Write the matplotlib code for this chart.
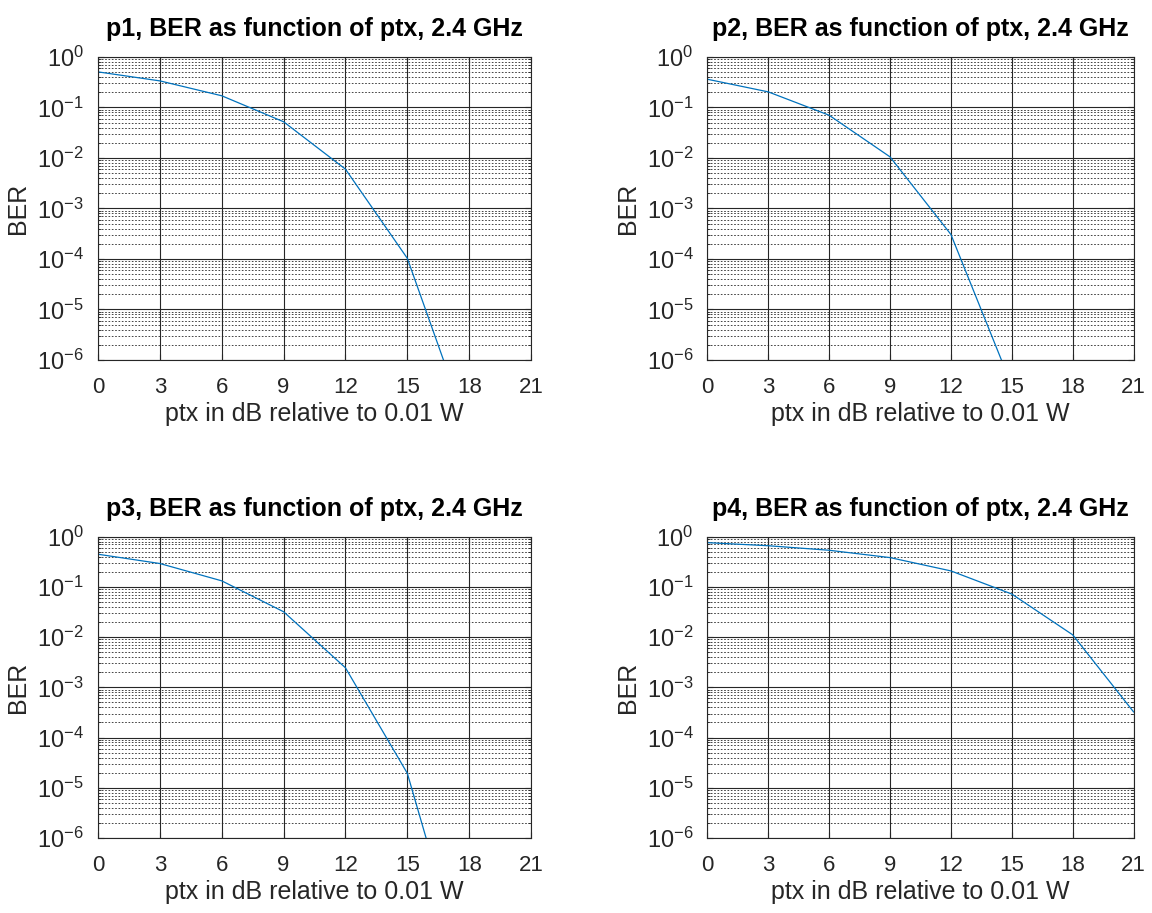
import numpy as np
import matplotlib
matplotlib.use("Agg")
import matplotlib.pyplot as plt
from matplotlib.ticker import LogLocator, FixedLocator, LogFormatterMathtext, NullFormatter

plt.rcParams['font.family'] = ['Liberation Sans', 'DejaVu Sans']
plt.rcParams['mathtext.fontset'] = 'custom'
plt.rcParams['mathtext.rm'] = 'Liberation Sans'
plt.rcParams['mathtext.it'] = 'Liberation Sans'

# ptx in dB relative to 0.01 W
ptx = [0, 3, 6, 9, 12, 15, 18, 21]

# BER
ber_p1 = [0.505, 0.335, 0.17, 0.052, 0.006, 1.03e-4, 3.7e-8, 1e-11]
ber_p2 = [0.361, 0.203, 0.070, 0.0105, 3.06e-4, 3.1e-7, 1e-10, 1e-13]
ber_p3 = [0.447, 0.292, 0.132, 0.032, 0.00245, 1.94e-5, 1.1e-9, 1e-13]
ber_p4 = [0.76, 0.66, 0.536, 0.383, 0.208, 0.072, 0.0111, 3.24e-4]

titles = ["p1, BER as function of ptx, 2.4 GHz",
          "p2, BER as function of ptx, 2.4 GHz",
          "p3, BER as function of ptx, 2.4 GHz",
          "p4, BER as function of ptx, 2.4 GHz"]
series = [ber_p1, ber_p2, ber_p3, ber_p4]

# axes boxes in figure fractions [left, bottom, width, height]
boxes = [[0.085, 0.6057, 0.376, 0.332],
         [0.614, 0.6057, 0.370, 0.332],
         [0.085, 0.0822, 0.376, 0.330],
         [0.614, 0.0822, 0.370, 0.330]]

fig = plt.figure(figsize=(11.52, 9.13), dpi=100)

for box, title, ber in zip(boxes, titles, series):
    ax = fig.add_axes(box)
    ax.plot(ptx, ber, color="#0072BD", linewidth=0.9)
    ax.set_yscale("log")
    ax.set_xlim(0, 21)
    ax.set_ylim(1e-6, 1)
    ax.xaxis.set_major_locator(FixedLocator([0, 3, 6, 9, 12, 15, 18, 21]))
    ax.yaxis.set_major_locator(LogLocator(base=10, numticks=10))
    ax.yaxis.set_major_formatter(LogFormatterMathtext())
    ax.yaxis.set_minor_locator(LogLocator(base=10, subs=np.arange(2, 10), numticks=20))
    ax.yaxis.set_minor_formatter(NullFormatter())
    ax.grid(True, which="major", color="#262626", linestyle="-", linewidth=0.8)
    ax.grid(True, which="minor", axis="y", color="#262626", linestyle=(0, (2, 2)), linewidth=0.6)
    ax.tick_params(which="both", direction="in", top=True, right=True, colors="#262626")
    ax.tick_params(axis="x", pad=12, labelsize=16)
    ax.tick_params(axis="y", pad=10, labelsize=17)
    ax.tick_params(which="major", length=4)
    ax.tick_params(which="minor", length=2)
    for s in ax.spines.values():
        s.set_color("#262626")
    ax.set_title(title, fontsize=18, fontweight="bold", pad=15)
    ax.set_xlabel("ptx in dB relative to 0.01 W", fontsize=18, color="#262626", labelpad=3)
    ax.set_ylabel("BER", fontsize=18, color="#262626", labelpad=5)

fig.savefig("out.png", dpi=100)
